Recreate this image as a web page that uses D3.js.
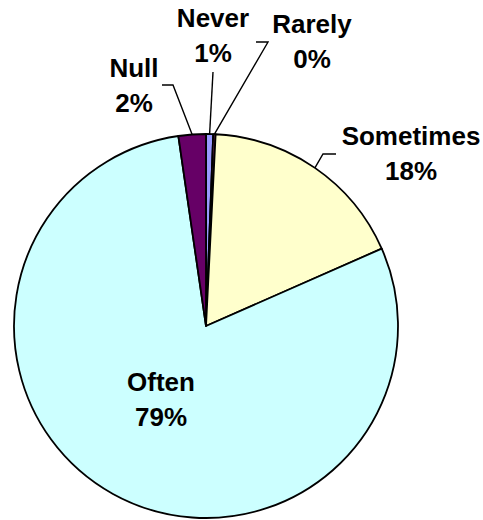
<!DOCTYPE html>
<html>
<head>
<meta charset="utf-8">
<script src="https://cdn.jsdelivr.net/npm/d3@7"></script>
<style>
  body { margin: 0; background: #fff; }
  text { font-family: "Liberation Sans", Arial, sans-serif; font-weight: bold; font-size: 26px; fill: #000; }
</style>
</head>
<body>
<div id="chart"></div>
<script>
// answers, in drawing order (clockwise from 12 o'clock)
var categories = ["Never", "Rarely", "Sometimes", "Often", "Null"];
var shares = [0.6, 0.2, 17.6, 79.3, 2.3];
var pctLabels = ["1%", "0%", "18%", "79%", "2%"];
var colors = ["#9999FF", "#993366", "#FFFFCC", "#CCFFFF", "#660066"];

var width = 483, height = 520;
var cx = 206, cy = 326, radius = 192;

// where each label sits and where its leader line bends (null = label inside slice)
var labelLayout = [
  {x: 213, y: 27, line: [[213, 72]]},
  {x: 312, y: 33, line: [[256, 42], [268, 42]]},
  {x: 411, y: 145, line: [[336, 154], [323, 154]]},
  {x: 161, y: 391, line: null},
  {x: 134, y: 77, line: [[162, 85], [173, 85]]}
];

var svg = d3.select("#chart").append("svg")
    .attr("width", width)
    .attr("height", height);

var g = svg.append("g")
    .attr("transform", "translate(" + cx + "," + cy + ")");

var pie = d3.pie().sort(null).value(function(d) { return d; });
var arcs = pie(shares);

var arc = d3.arc().innerRadius(0).outerRadius(radius);

g.selectAll("path.slice")
  .data(arcs)
  .enter().append("path")
    .attr("class", "slice")
    .attr("d", arc)
    .attr("fill", function(d, i) { return colors[i]; })
    .attr("stroke", "#000")
    .attr("stroke-width", 1.8)
    .attr("stroke-linejoin", "round");

// leader lines go from the label to the middle of the slice's rim
function rimPoint(d) {
  var a = (d.startAngle + d.endAngle) / 2;
  return [cx + radius * Math.sin(a), cy - radius * Math.cos(a)];
}

arcs.forEach(function(d, i) {
  var lay = labelLayout[i];
  if (lay.line) {
    var pts = lay.line.concat([rimPoint(d)]);
    svg.append("path")
      .attr("d", d3.line()(pts))
      .attr("fill", "none")
      .attr("stroke", "#000")
      .attr("stroke-width", 1.4);
  }
  var t = svg.append("text")
    .attr("text-anchor", "middle")
    .attr("x", lay.x)
    .attr("y", lay.y);
  t.append("tspan").attr("x", lay.x).text(categories[i]);
  t.append("tspan").attr("x", lay.x).attr("dy", 34.5).text(pctLabels[i]);
});
</script>
</body>
</html>
